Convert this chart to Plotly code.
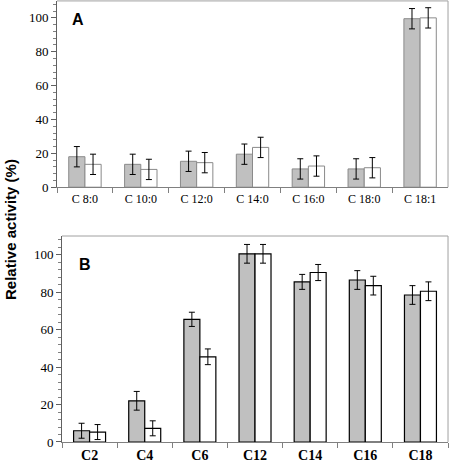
import plotly.graph_objects as go

# Panel A data
cats_a = ["C 8:0", "C 10:0", "C 12:0", "C 14:0", "C 16:0", "C 18:0", "C 18:1"]
a_gray = [18, 13.5, 15.3, 19.5, 10.8, 10.8, 99.5]
a_gray_err = [6, 6, 6, 6, 6, 6, 6]
a_white = [13.5, 10.5, 14.5, 23.5, 12.5, 11.5, 100]
a_white_err = [6, 6, 6, 6, 6, 6, 6]

# Panel B data
cats_b = ["C2", "C4", "C6", "C12", "C14", "C16", "C18"]
b_gray = [6, 22, 65.5, 100.5, 85.5, 86.5, 78.5]
b_gray_err = [4, 5, 3.8, 5, 4, 5, 5]
b_white = [5.3, 7.3, 45.5, 100.5, 90.5, 83.5, 80.5]
b_white_err = [4, 4, 4.2, 5, 4.3, 5, 5]

GRAY = "#c0c0c0"
err_style = dict(type="data", thickness=1, width=3, color="black")

fig = go.Figure()
fig.add_trace(go.Bar(x=cats_a, y=a_gray, marker=dict(color=GRAY, line=dict(color="#8a8a8a", width=1)),
                     error_y=dict(array=a_gray_err, **err_style), xaxis="x", yaxis="y", showlegend=False))
fig.add_trace(go.Bar(x=cats_a, y=a_white, marker=dict(color="white", line=dict(color="#8a8a8a", width=1)),
                     error_y=dict(array=a_white_err, **err_style), xaxis="x", yaxis="y", showlegend=False))
fig.add_trace(go.Bar(x=cats_b, y=b_gray, marker=dict(color=GRAY, line=dict(color="black", width=1.2)),
                     error_y=dict(array=b_gray_err, **err_style), xaxis="x2", yaxis="y2", showlegend=False))
fig.add_trace(go.Bar(x=cats_b, y=b_white, marker=dict(color="white", line=dict(color="black", width=1.2)),
                     error_y=dict(array=b_white_err, **err_style), xaxis="x2", yaxis="y2", showlegend=False))

serif = "Liberation Serif"
xcommon = dict(showline=True, linecolor="#808080", linewidth=1, ticks="outside", tickson="boundaries",
               ticklen=5, tickcolor="#808080", showgrid=False, zeroline=False, automargin=False)
ycommon = dict(showline=True, linecolor="#606060", linewidth=1, ticks="outside", ticklen=5,
               tickcolor="#606060", range=[0, 110], dtick=20, showgrid=False, zeroline=False,
               automargin=False,
               tickfont=dict(family=serif, size=13, color="black"),
               minor=dict(dtick=4, ticks="outside", ticklen=3, tickcolor="#808080"))

fig.update_layout(
    width=450, height=468,
    autosize=False,
    font=dict(family=serif),
    margin=dict(l=0, r=0, t=0, b=0, pad=0),
    paper_bgcolor="white", plot_bgcolor="white",
    barmode="group", bargap=0.42, bargroupgap=0,
    xaxis=dict(domain=[0.1267, 0.9956], anchor="y",
               tickfont=dict(family=serif, size=12, color="black"), **xcommon),
    yaxis=dict(domain=[0.600, 0.998], anchor="x", **ycommon),
    xaxis2=dict(domain=[0.1378, 0.9956], anchor="y2",
                tickfont=dict(family=serif, size=14, color="black", weight="bold"), **xcommon),
    yaxis2=dict(domain=[0.0556, 0.4957], anchor="x2", **ycommon),
    shapes=[
        dict(type="line", xref="paper", yref="paper", x0=0.1267, x1=0.9956, y0=0.998, y1=0.998,
             line=dict(color="#a0a0a0", width=1)),
        dict(type="line", xref="paper", yref="paper", x0=0.9956, x1=0.9956, y0=0.600, y1=0.998,
             line=dict(color="#a0a0a0", width=1)),
        dict(type="line", xref="paper", yref="paper", x0=0.1378, x1=0.9956, y0=0.4957, y1=0.4957,
             line=dict(color="#a0a0a0", width=1)),
        dict(type="line", xref="paper", yref="paper", x0=0.9956, x1=0.9956, y0=0.0556, y1=0.4957,
             line=dict(color="#a0a0a0", width=1)),
    ],
    annotations=[
        dict(text="<b>Relative activity (%)</b>", textangle=-90, xref="paper", yref="paper",
             x=10/450, y=1-230/468, showarrow=False, xanchor="center", yanchor="middle",
             font=dict(family="Liberation Sans", size=15, color="black")),
        dict(text="<b>A</b>", xref="paper", yref="paper", x=78/450, y=1-20/468, showarrow=False,
             xanchor="center", yanchor="middle", font=dict(family="Liberation Sans", size=16, color="black")),
        dict(text="<b>B</b>", xref="paper", yref="paper", x=85/450, y=1-264/468, showarrow=False,
             xanchor="center", yanchor="middle", font=dict(family="Liberation Sans", size=16, color="black")),
    ],
)

fig.write_html("out.html", config={"displayModeBar": False},
               post_script="document.body.style.margin='0px';")
